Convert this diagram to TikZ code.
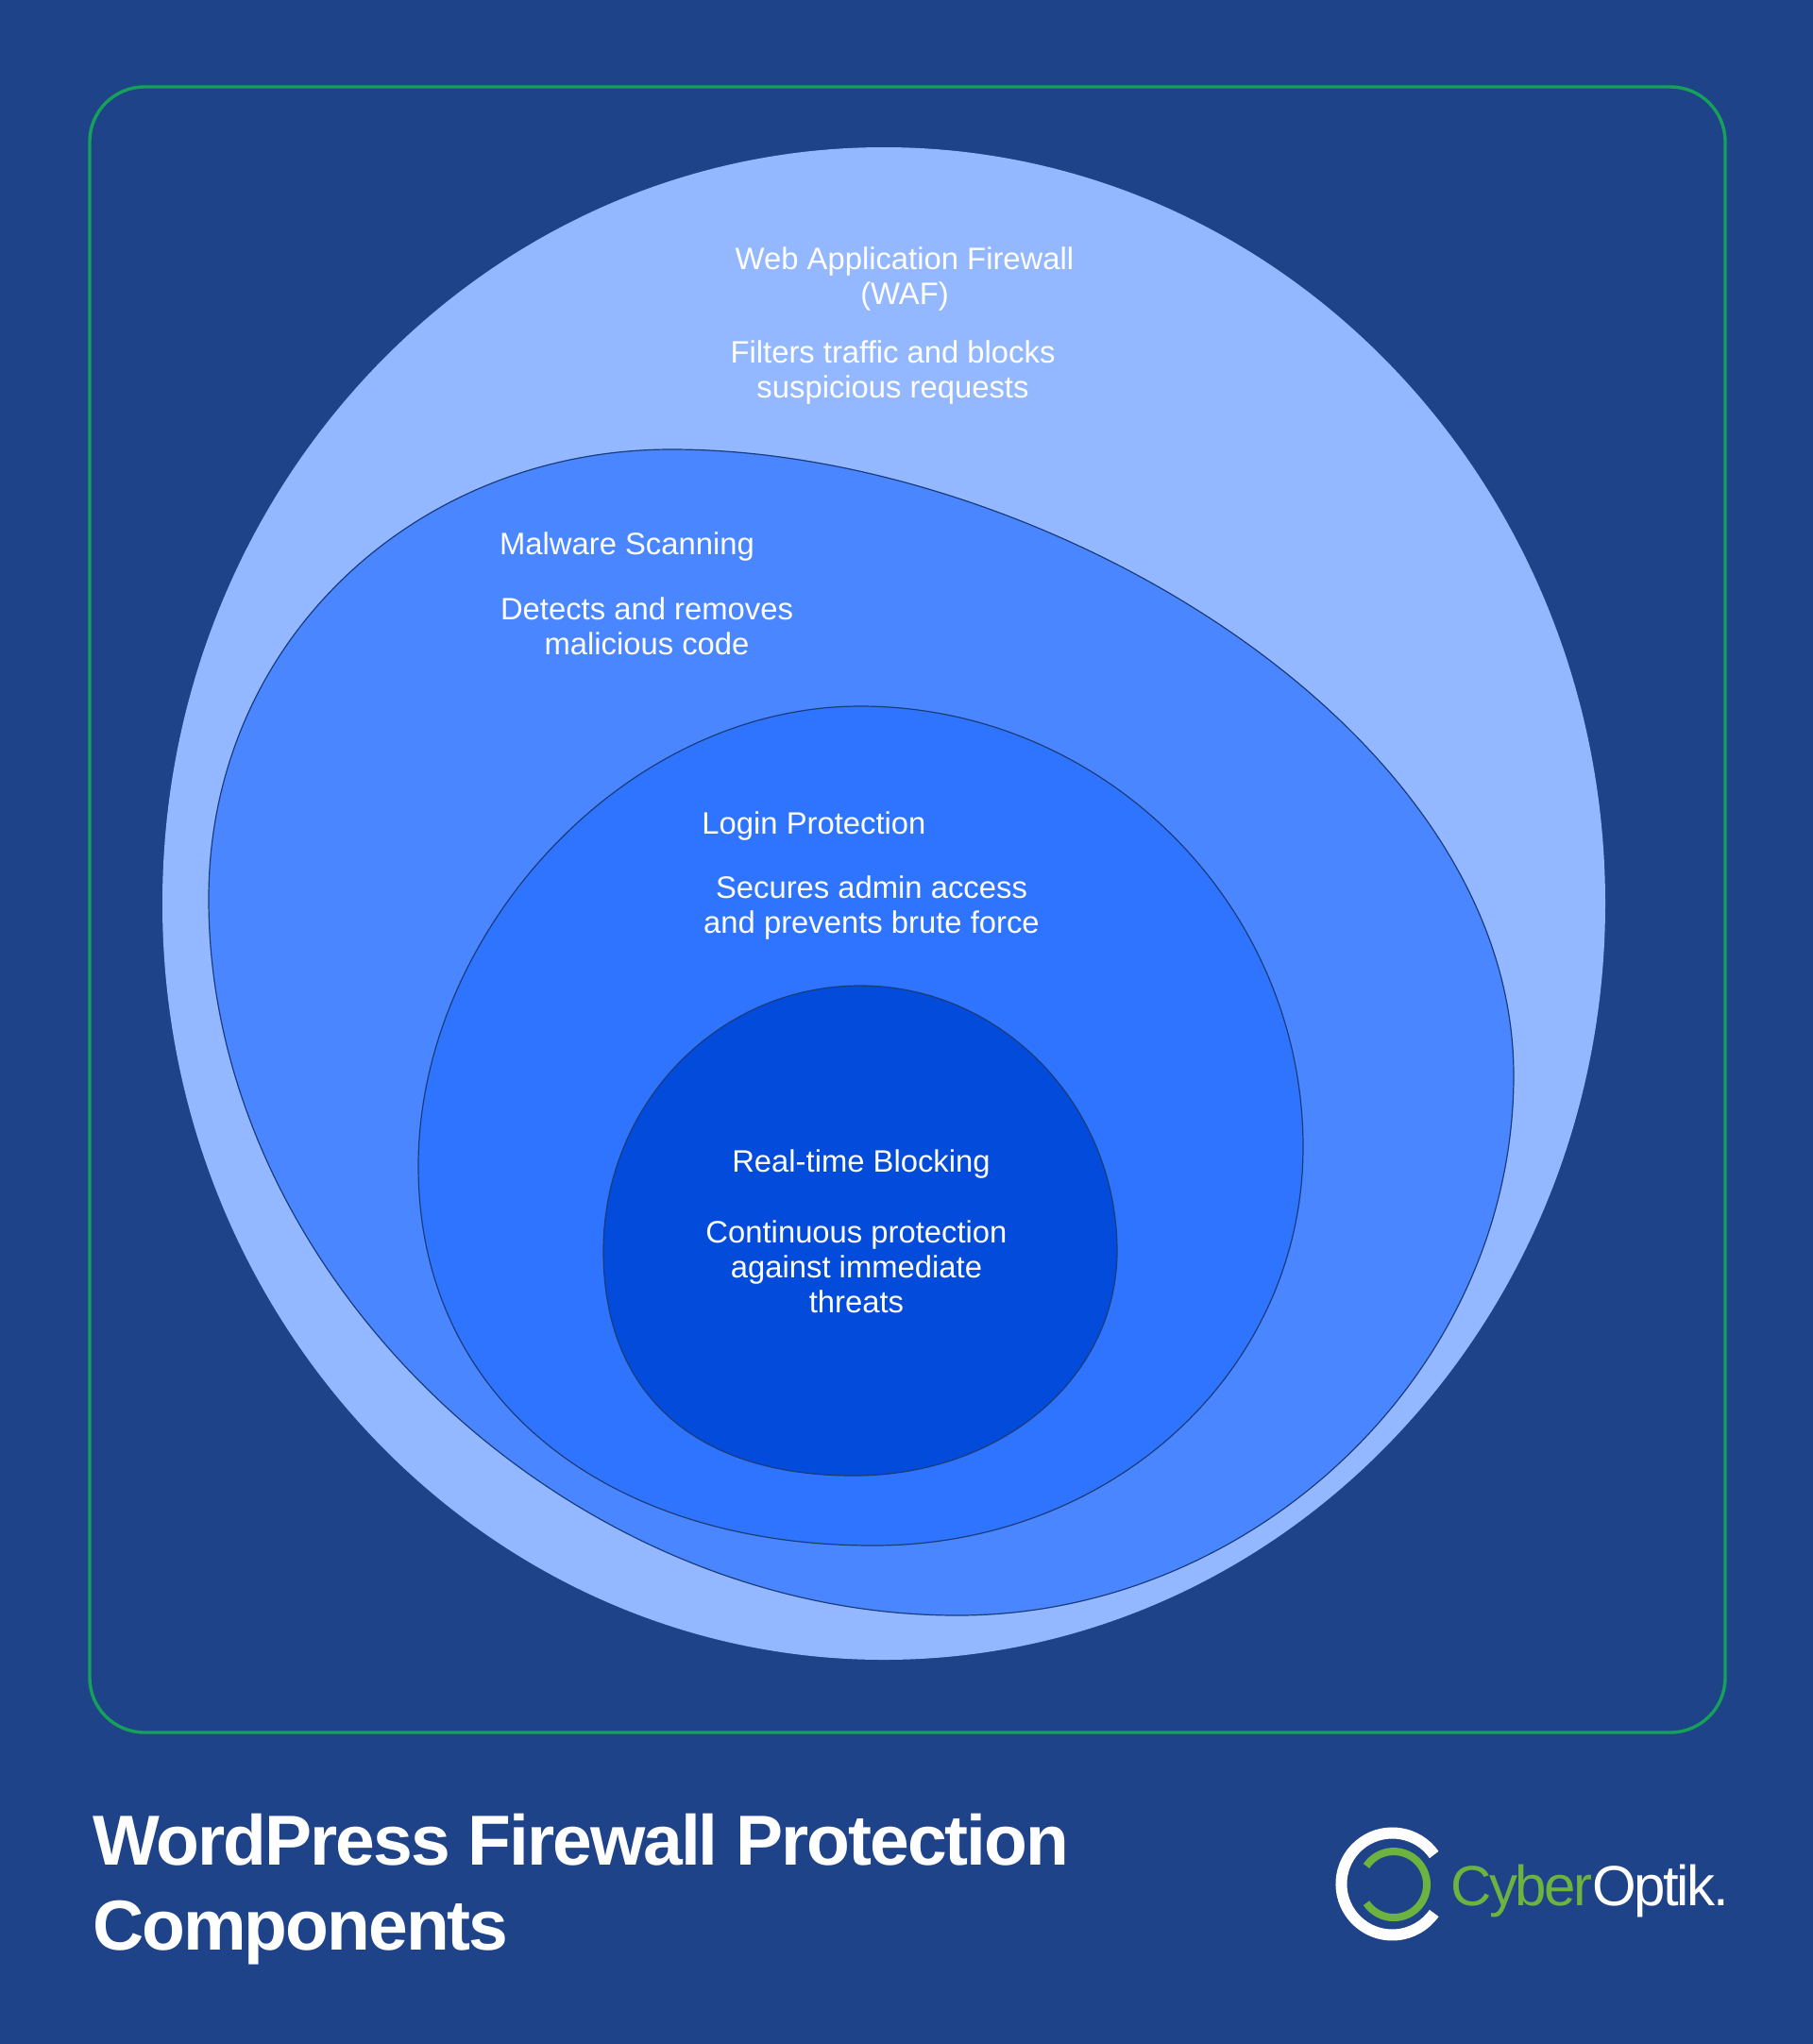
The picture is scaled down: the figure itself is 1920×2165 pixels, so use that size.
\documentclass[tikz,border=0pt]{standalone}
\usepackage{fontspec}
\setmainfont{Liberation Sans}
\newfontfamily\logofont[LetterSpace=-4]{Liberation Sans}
\newfontfamily\titlefont[LetterSpace=-2.7]{Liberation Sans}
\definecolor{bgblue}{HTML}{1E4389}
\definecolor{framegreen}{HTML}{16A05A}
\definecolor{wafblue}{HTML}{94B8FF}
\definecolor{malblue}{HTML}{4A86FF}
\definecolor{logblue}{HTML}{2E74FF}
\definecolor{rtblue}{HTML}{034BDB}
\definecolor{logogreen}{HTML}{6CB33F}
\tikzset{
  x=0.5pt,y=-0.5pt,
  layer/.style={draw=bgblue!90!black,line width=0.6pt},
  lab/.style={text=white,align=center,inner sep=0pt,anchor=base,font=\fontsize{16.4}{18.5}\selectfont},
  heading/.style={text=white,align=left,inner sep=0pt,anchor=base west,font=\fontsize{37.5}{45}\selectfont\titlefont\bfseries},
  logotext/.style={inner sep=0pt,anchor=base west,font=\fontsize{30}{30}\selectfont\logofont}
}
\begin{document}
\begin{tikzpicture}
\fill[bgblue] (0,0) rectangle (1920,2165);
\useasboundingbox (0,0) rectangle (1920,2165);
\draw[framegreen,line width=1.7pt,rounded corners=29pt] (95,92) rectangle (1827,1835);
\fill[wafblue] (936,957) ellipse [x radius=382pt,y radius=400.5pt];
\draw[layer,fill=malblue] (711,476) .. controls (1100,476) and (1603,770) .. (1603,1139)
  .. controls (1603,1450) and (1330,1711) .. (1014,1711)
  .. controls (600,1711) and (221,1350) .. (221,952)
  .. controls (221,680) and (440,476) .. (711,476) -- cycle;
\draw[layer,fill=logblue] (911,748) .. controls (1170,748) and (1380,960) .. (1380,1215)
  .. controls (1380,1450) and (1180,1637) .. (925,1637)
  .. controls (640,1637) and (443,1480) .. (443,1235)
  .. controls (443,990) and (660,748) .. (911,748) -- cycle;
\draw[layer,fill=rtblue] (911,1044) .. controls (1060,1044) and (1183,1170) .. (1183,1325)
  .. controls (1183,1460) and (1060,1563) .. (904,1563)
  .. controls (740,1563) and (639,1480) .. (639,1325)
  .. controls (639,1170) and (760,1044) .. (911,1044) -- cycle;
\node[lab] (waftitle) at (958,322) {Web Application Firewall\\(WAF)};
\node[lab] (wafbody) at (945.5,421) {Filters traffic and blocks\\suspicious requests};
\node[lab] (maltitle) at (664,587) {Malware Scanning};
\node[lab] (malbody) at (685,693) {Detects and removes\\malicious code};
\node[lab] (logtitle) at (862,883) {Login Protection};
\node[lab] (logbody) at (923,988.5) {Secures admin access\\and prevents brute force};
\node[lab] (rttitle) at (912,1241) {Real-time Blocking};
\node[lab] (rtbody) at (907,1390) {Continuous protection\\against immediate\\threats};
\node[heading] (title) at (98,1975) {WordPress Firewall Protection};
\node[heading] (title2) at (98,2065) {Components};
\draw[white,line width=6pt] (1518.7,1964.5) arc[start angle=35,end angle=325,radius=27pt];
\draw[logogreen,line width=4pt] (1447,2015.6) arc[start angle=-146,end angle=146,radius=17.5pt];
\node[logotext,text=logogreen] (cyber) at (1536,2018) {Cyber};
\node[logotext,text=white] (optik) at (1686,2018) {Optik.};
\end{tikzpicture}
\end{document}
